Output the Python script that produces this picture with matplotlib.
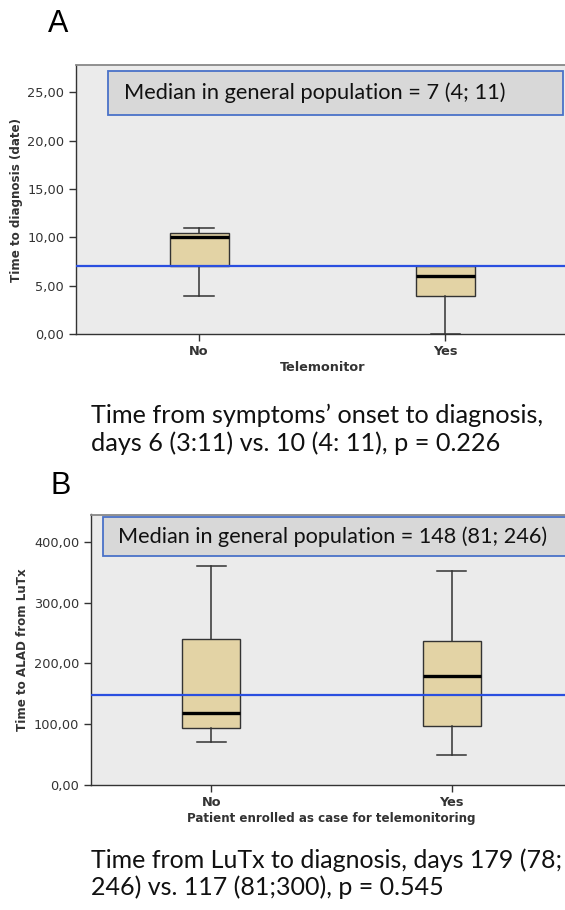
import matplotlib
matplotlib.use('Agg')
import matplotlib.pyplot as plt
from matplotlib.patches import Rectangle

W, H = 565, 910

# panel A: time from symptoms onset to diagnosis
groups_a = ['No', 'Yes']
a_low = [4, 0]
a_q1 = [7, 4]
a_med = [10, 6]
a_q3 = [10.5, 7]
a_high = [11, 7]
pop_median_a = 7
a_ticks = [0, 5, 10, 15, 20, 25]

# panel B: time from LuTx to ALAD
groups_b = ['No', 'Yes']
b_low = [71, 49]
b_q1 = [93, 97]
b_med = [118, 180]
b_q3 = [240, 237]
b_high = [360, 352]
pop_median_b = 148
b_ticks = [0, 100, 200, 300, 400]

box_fill = '#e3d3a5'
line_blue = '#2a4fe0'
text_font = 'Lato'
tick_col = '#333333'


def fx(px):
    return px / W


def fy(py):
    return 1 - py / H


def draw_panel(ax, low, q1, med, q3, high, pop_med, ticks, ytop, ylabel, xlabel, groups, xl_size):
    stats = []
    for i in range(len(groups)):
        stats.append({'med': med[i], 'q1': q1[i], 'q3': q3[i],
                      'whislo': low[i], 'whishi': high[i], 'fliers': []})
    ax.bxp(stats, positions=[0, 1], widths=0.24, capwidths=0.12,
           patch_artist=True, showfliers=False, manage_ticks=False,
           boxprops=dict(facecolor=box_fill, edgecolor='#333333', linewidth=1.0),
           medianprops=dict(color='black', linewidth=2.4),
           whiskerprops=dict(color='#333333', linewidth=1.1),
           capprops=dict(color='#333333', linewidth=1.1))
    ax.axhline(pop_med, color=line_blue, linewidth=1.6, zorder=5)
    ax.set_facecolor('#ebebeb')
    ax.set_xlim(-0.5, 1.5)
    ax.set_ylim(0, ytop)
    ax.set_xticks([0, 1])
    ax.set_xticklabels(groups, fontweight='bold')
    ax.set_yticks(ticks)
    ax.set_yticklabels(['%d,00' % t for t in ticks])
    ax.tick_params(axis='both', labelsize=9.3, colors=tick_col, length=5, width=1, direction='out')
    ax.tick_params(axis='x', pad=3)
    for s in ['left', 'bottom']:
        ax.spines[s].set_color('#333333')
        ax.spines[s].set_linewidth(1.0)
    for s in ['top', 'right']:
        ax.spines[s].set_color('#888888')
        ax.spines[s].set_linewidth(1.3)
    ax.set_ylabel(ylabel, fontsize=8.6, fontweight='bold', color=tick_col)
    ax.set_xlabel(xlabel, fontsize=xl_size, fontweight='bold', color=tick_col, labelpad=2)


fig = plt.figure(figsize=(W / 100, H / 100), dpi=100)

ax_a = fig.add_axes([fx(76), fy(334.3), fx(568.5) - fx(76), fy(65) - fy(334.3)])
draw_panel(ax_a, a_low, a_q1, a_med, a_q3, a_high, pop_median_a, a_ticks, 27.8,
           'Time to diagnosis (date)', 'Telemonitor', groups_a, 9.2)
ax_a.yaxis.set_label_coords((23 - 76) / (568.5 - 76), 0.5)

ax_b = fig.add_axes([fx(91), fy(785), fx(572) - fx(91), fy(514.5) - fy(785)])
draw_panel(ax_b, b_low, b_q1, b_med, b_q3, b_high, pop_median_b, b_ticks, 445,
           'Time to ALAD from LuTx', 'Patient enrolled as case for telemonitoring', groups_b, 8.6)
ax_b.yaxis.set_label_coords((29 - 91) / (572 - 91), 0.5)

# "median in general population" boxes
fig.patches.append(Rectangle((fx(108), fy(115)), fx(563) - fx(108), fy(70.7) - fy(115),
                             transform=fig.transFigure, facecolor='#d8d8d8',
                             edgecolor='#4a72c8', linewidth=1.3, zorder=10))
fig.text(fx(124), fy(93), 'Median in general population = 7 (4; 11)', family=text_font,
         fontsize=15.7, va='center', ha='left', color='#111111', zorder=11)
fig.patches.append(Rectangle((fx(103.3), fy(555.7)), fx(620) - fx(103.3), fy(516.7) - fy(555.7),
                             transform=fig.transFigure, facecolor='#d8d8d8',
                             edgecolor='#4a72c8', linewidth=1.3, zorder=10))
fig.text(fx(118), fy(537), 'Median in general population = 148 (81; 246)', family=text_font,
         fontsize=15.6, va='center', ha='left', color='#111111', zorder=11)

# panel letters
fig.text(fx(58), fy(24), 'A', fontsize=22, family='Liberation Sans', ha='center', va='center')
fig.text(fx(61), fy(486), 'B', fontsize=22, family='Liberation Sans', ha='center', va='center')

# captions
fig.text(fx(91), fy(423), 'Time from symptoms\u2019 onset to diagnosis,', family=text_font,
         fontsize=18.2, va='baseline', ha='left', color='#111111')
fig.text(fx(91), fy(451), 'days 6 (3:11) vs. 10 (4: 11), p = 0.226', family=text_font,
         fontsize=18.2, va='baseline', ha='left', color='#111111')
fig.text(fx(91), fy(868), 'Time from LuTx to diagnosis, days 179 (78;', family=text_font,
         fontsize=18.0, va='baseline', ha='left', color='#111111')
fig.text(fx(91), fy(895), '246) vs. 117 (81;300), p = 0.545', family=text_font,
         fontsize=18.0, va='baseline', ha='left', color='#111111')

fig.savefig('out.png', dpi=100)
